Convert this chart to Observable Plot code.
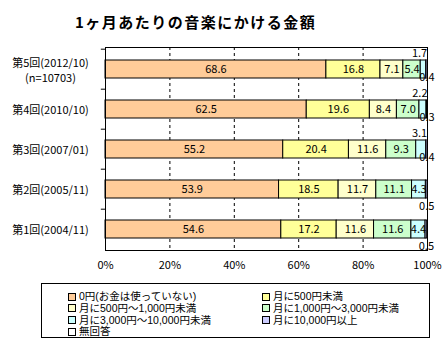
<!DOCTYPE html>
<html><head><meta charset="utf-8">
<script src="https://cdn.jsdelivr.net/npm/d3@7"></script>
<script src="https://cdn.jsdelivr.net/npm/@observablehq/plot@0.6"></script>
<style>
body{margin:0;background:#fff;font-family:"Noto Sans CJK JP",sans-serif;color:#000;}
#wrap{position:relative;width:447px;height:343px;overflow:hidden;}
#title{position:absolute;left:75px;top:12px;font-size:15px;letter-spacing:1.5px;font-weight:bold;line-height:20px;white-space:nowrap;}
#chart{position:absolute;left:0;top:40px;}
#legend{position:absolute;left:41px;top:283px;width:389px;height:55px;border:1px solid #000;box-sizing:border-box;font-family:"Liberation Sans","Noto Sans CJK JP",sans-serif;font-size:10.5px;}
.item{position:absolute;display:flex;align-items:center;white-space:nowrap;line-height:11px;height:11px;}
.sw{width:8px;height:8px;border:1px solid #000;margin-right:3px;box-sizing:border-box;flex:none;}
</style></head>
<body>
<div id="wrap">
  <div id="title">1ヶ月あたりの音楽にかける金額</div>
  <div id="chart"></div>
  <div id="legend"></div>
</div>
<script>
const categories = ["第5回(2012/10)","第4回(2010/10)","第3回(2007/01)","第2回(2005/11)","第1回(2004/11)"];
const categoryNotes = ["(n=10703)","","","",""];
const series = ["0円(お金は使っていない)","月に500円未満","月に500円～1,000円未満","月に1,000円～3,000円未満","月に3,000円～10,000円未満","月に10,000円以上","無回答"];
const colors = ["#FFCC99","#FFFF99","#FFFFCC","#CCFFCC","#CCFFFF","#CCCCFF","#FFFFFF"];
const yen0      = [68.6, 62.5, 55.2, 53.9, 54.6];
const under500  = [16.8, 19.6, 20.4, 18.5, 17.2];
const y500_1000 = [7.1, 8.4, 11.6, 11.7, 11.6];
const y1000_3000= [5.4, 7.0, 9.3, 11.1, 11.6];
const y3000_10000=[1.7, 2.2, 3.1, 4.3, 4.4];
const over10000 = [0.4, 0.3, 0.4, 0.5, 0.5];
const noAnswer  = [0, 0, 0, 0, 0];
const xTicks = [0, 20, 40, 60, 80, 100];
const gridTicks = [20, 40, 60, 80];

const seriesValues = [yen0, under500, y500_1000, y1000_3000, y3000_10000, over10000, noAnswer];
const table = [];
categories.forEach((c, i) => seriesValues.forEach((arr, s) => table.push({period: c, series: series[s], value: arr[i]})));
const cyanOf = d => y3000_10000[categories.indexOf(d.period)];

const W = 447, H = 240, mT = 7, mB = 30, mL = 105, mR = 20;
const step = (H - mT - mB) / categories.length;
const pin = 0.55;
const bw = step * (1 - pin);

const chart = Plot.plot({
  width: W, height: H, marginTop: mT, marginBottom: mB, marginLeft: mL, marginRight: mR,
  style: {fontFamily: '"Noto Sans CJK JP", sans-serif', fontSize: "11px", color: "#000", background: "transparent"},
  x: {domain: [0, 100], ticks: xTicks, tickFormat: d => d + "%", tickSize: 0, tickPadding: 11, label: null},
  y: {domain: categories, paddingInner: pin, paddingOuter: pin / 2, axis: null},
  color: {domain: series, range: colors},
  marks: [
    Plot.ruleX(gridTicks, {stroke: "#000", strokeDasharray: "3,3", strokeWidth: 1}),
    Plot.barX(table, Plot.stackX({x: "value", y: "period", z: "series", fill: "series", stroke: "#000", strokeWidth: 1, order: series})),
    Plot.text(table, Plot.stackX({x: "value", y: "period", z: "series", order: series,
      text: d => d.value >= 4 ? d.value.toFixed(1) : "", fill: "#000"})),
    Plot.text(table, Plot.stackX2({x: "value", y: "period", z: "series", order: series,
      text: d => (d.series === series[4] && d.value < 4) ? d.value.toFixed(1) : "",
      textAnchor: "end", dx: 1, dy: -16, fill: "#000"})),
    Plot.text(table, Plot.stackX({x: "value", y: "period", z: "series", order: series,
      text: d => (d.series === series[5] && cyanOf(d) < 4) ? d.value.toFixed(1) : "",
      dy: 8, fill: "#000"})),
    Plot.text(table, Plot.stackX({x: "value", y: "period", z: "series", order: series,
      text: d => (d.series === series[5] && cyanOf(d) >= 4) ? d.value.toFixed(1) : "",
      dy: 16.5, fill: "#000"})),
    Plot.ruleY(categories, {y: d => d, x1: -1.3, x2: 0, dy: -step / 2, stroke: "#000"}),
    Plot.text(categories, {y: d => d, frameAnchor: "left", dx: -55, textAnchor: "middle", fontSize: 11,
      text: (d, i) => categoryNotes[i] ? d + "\n" + categoryNotes[i] : d, lineHeight: 1.35, fill: "#000"}),
    Plot.frame({stroke: "#000"})
  ]
});
document.getElementById("chart").appendChild(chart);

const legend = document.getElementById("legend");
series.forEach((s, i) => {
  const el = document.createElement("div");
  el.className = "item";
  el.style.left = (i % 2 === 0 ? 26 : 220) + "px";
  el.style.top = (7 + Math.floor(i / 2) * 11.8) + "px";
  const sw = document.createElement("span");
  sw.className = "sw";
  sw.style.background = colors[i];
  el.appendChild(sw);
  el.appendChild(document.createTextNode(s));
  legend.appendChild(el);
});
</script>
</body></html>
